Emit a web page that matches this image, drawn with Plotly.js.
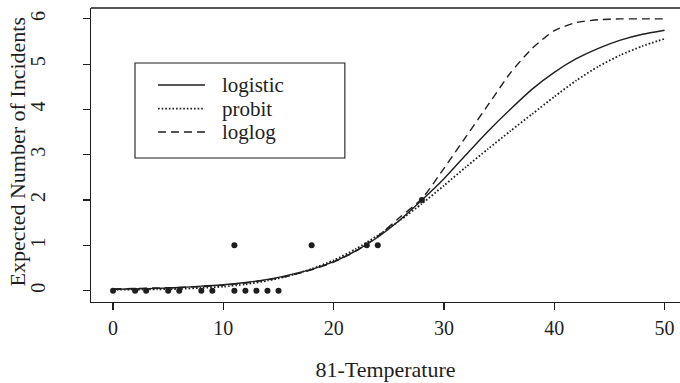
<!DOCTYPE html>
<html><head><meta charset="utf-8">
<script src="https://cdn.plot.ly/plotly-3.0.1.min.js"></script>
<style>html,body{margin:0;padding:0;background:#fff}#chart{width:680px;height:383px}</style>
</head><body><div id="chart"></div>
<script>
// observed incidents (x = 81 - temperature)
const obsX = [0, 2, 3, 5, 6, 8, 9, 11, 11, 12, 13, 14, 15, 18, 23, 24, 28];
const obsY = [0, 0, 0, 0, 0, 0, 0, 0, 1, 0, 0, 0, 0, 1, 1, 1, 2];

// fitted curves
const curveX    = [0, 2, 4, 6, 8, 10, 12, 14, 16, 18, 20, 22, 24, 26, 28, 30, 32, 34, 36, 38, 40, 42, 44, 46, 48, 50];
const logisticY = [0.03, 0.04, 0.05, 0.07, 0.10, 0.13, 0.18, 0.25, 0.35, 0.47, 0.64, 0.88, 1.18, 1.56, 2.00, 2.47, 3.00, 3.52, 4.00, 4.45, 4.82, 5.12, 5.35, 5.53, 5.66, 5.75];
const probitY   = [0.02, 0.025, 0.03, 0.04, 0.06, 0.09, 0.14, 0.22, 0.33, 0.48, 0.67, 0.92, 1.22, 1.55, 1.92, 2.32, 2.73, 3.13, 3.52, 3.90, 4.28, 4.64, 4.95, 5.20, 5.40, 5.56];
const loglogY   = [0.04, 0.05, 0.06, 0.07, 0.09, 0.12, 0.17, 0.24, 0.33, 0.46, 0.63, 0.87, 1.20, 1.62, 2.03, 2.70, 3.40, 4.10, 4.80, 5.35, 5.74, 5.92, 5.98, 6.00, 6.00, 6.00];

const xTicks = [0, 10, 20, 30, 40, 50];
const yTicks = [0, 1, 2, 3, 4, 5, 6];
const seriesNames = ['logistic', 'probit', 'loglog'];
const xTitle = '81-Temperature';
const yTitle = 'Expected Number of Incidents';

const ink = '#1e1e1e';
const fontFam = '"Liberation Serif", "DejaVu Serif", serif';
const dashes = ['solid', '1.6px,2px', '8px,5px'];
const widths = [1.4, 1.8, 1.4];
const curvesY = [logisticY, probitY, loglogY];

const traces = curvesY.map((ys, i) => ({
  x: curveX, y: ys, type: 'scatter', mode: 'lines', name: seriesNames[i],
  line: {color: ink, width: widths[i], dash: dashes[i], shape: 'spline', smoothing: 0.6},
  hoverinfo: 'skip'
}));
traces.push({
  x: obsX, y: obsY, type: 'scatter', mode: 'markers', name: 'observed',
  marker: {color: ink, size: 6}
});

// hand-made legend box (paper coordinates)
const legRows = [0.738, 0.658, 0.578];
const shapes = [
  {type: 'line', xref: 'paper', yref: 'paper', x0: 0, x1: 1, y0: 1, y1: 1, line: {color: ink, width: 1.3}},
  {type: 'rect', xref: 'paper', yref: 'paper', x0: 0.0747, x1: 0.431, y0: 0.49, y1: 0.813, line: {color: ink, width: 1.1}, fillcolor: 'rgba(0,0,0,0)'}
];
const annotations = [
  {xref: 'paper', yref: 'paper', x: -0.125, y: 0.51, xanchor: 'center', yanchor: 'middle', textangle: -90,
   text: yTitle, showarrow: false, font: {family: fontFam, size: 22, color: ink}}
];
seriesNames.forEach((nm, i) => {
  shapes.push({type: 'line', xref: 'paper', yref: 'paper', x0: 0.1138, x1: 0.1935, y0: legRows[i], y1: legRows[i],
    line: {color: ink, width: widths[i], dash: dashes[i]}});
  annotations.push({xref: 'paper', yref: 'paper', x: 0.219, y: legRows[i], xanchor: 'left', yanchor: 'middle',
    text: nm, showarrow: false, font: {family: fontFam, size: 21, color: ink}});
});

const layout = {
  width: 680, height: 383,
  margin: {l: 91, r: 0, t: 8, b: 81},
  paper_bgcolor: '#fff', plot_bgcolor: '#fff',
  showlegend: false,
  font: {family: fontFam, size: 20, color: ink},
  xaxis: {
    range: [-2, 51.4], tickvals: xTicks, ticktext: xTicks.map(String),
    ticks: 'outside', ticklen: 7, tickwidth: 1.2, tickcolor: ink,
    showline: true, linecolor: ink, linewidth: 1.3, showgrid: false, zeroline: false,
    ticklabelstandoff: 1,
    title: {text: xTitle, standoff: 23, font: {family: fontFam, size: 22, color: ink}}
  },
  yaxis: {
    range: [-0.25, 6.24], tickvals: yTicks, ticktext: yTicks.map(String), tickangle: -90,
    ticks: 'outside', ticklen: 7, tickwidth: 1.2, tickcolor: ink,
    showline: true, linecolor: ink, linewidth: 1.3, showgrid: false, zeroline: false,
    ticklabelstandoff: 30
  },
  shapes: shapes,
  annotations: annotations
};

Plotly.newPlot('chart', traces, layout, {displayModeBar: false, staticPlot: true});
</script>
</body></html>
